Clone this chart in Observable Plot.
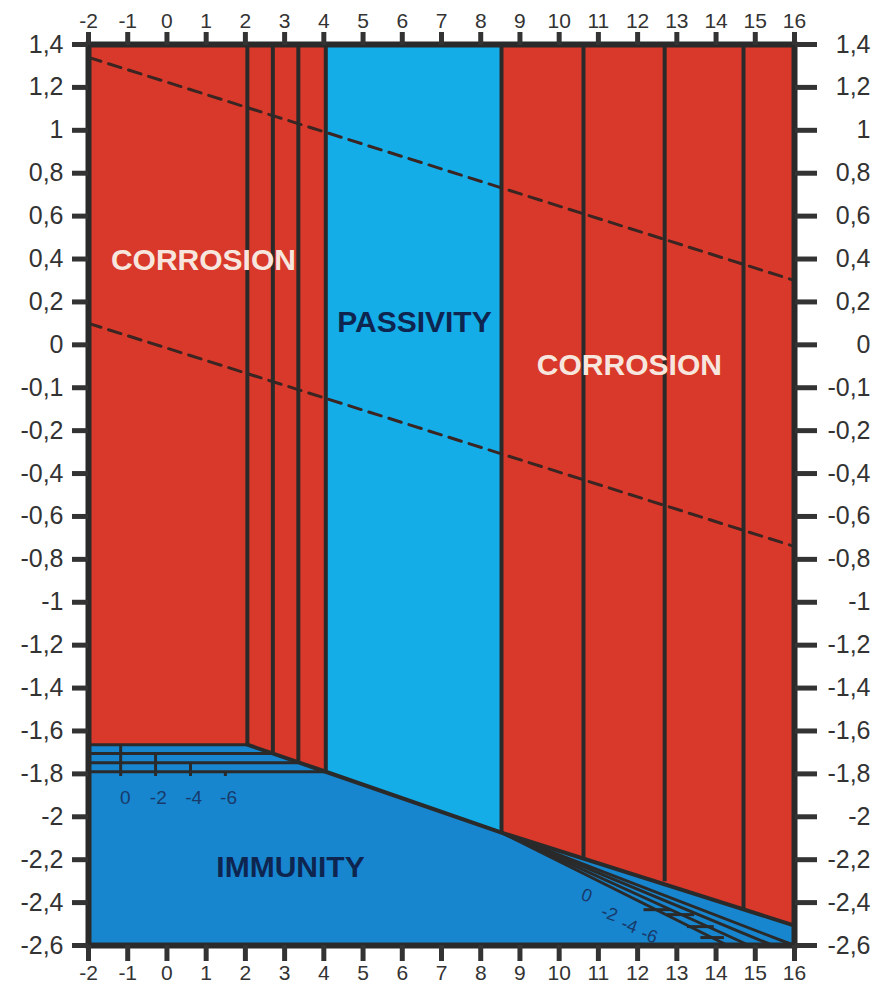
<!DOCTYPE html>
<html><head><meta charset="utf-8">
<script src="https://cdn.jsdelivr.net/npm/d3@7"></script>
<script src="https://cdn.jsdelivr.net/npm/@observablehq/plot@0.6"></script>
<style>body{margin:0;background:#fff} #chart svg{display:block}</style>
</head><body><div id="chart"></div>
<script>
// ---- axis ticks ----
const xTicks = [-2,-1,0,1,2,3,4,5,6,7,8,9,10,11,12,13,14,15,16];
// y positions (equally spaced) and the labels printed at them
const yTickPos = [1.4,1.2,1.0,0.8,0.6,0.4,0.2,0.0,-0.2,-0.4,-0.6,-0.8,-1.0,-1.2,-1.4,-1.6,-1.8,-2.0,-2.2,-2.4,-2.6,-2.8];
const yTickLabels = ["1,4","1,2","1","0,8","0,6","0,4","0,2","0","-0,1","-0,2","-0,4","-0,6","-0,8","-1","-1,2","-1,4","-1,6","-1,8","-2","-2,2","-2,4","-2,6"];
const topE = 1.4;
const bottomE = -2.8;

// ---- regions ----
const corrosionLeftPH = [-2, 2.05, 4.05];
const corrosionLeftBottom = [-1.864, -1.864, -1.99];
const passivityPH = [4.05, 8.53];
const passivityBottom = [-1.99, -2.274];
const corrosionRightPH = [8.53, 16];
const corrosionRightBottom = [-2.274, -2.707];

// main lower boundary (Al2O3 / Al)
const boundaryPH = [2.05, 4.05, 8.53, 16];
const boundaryE = [-1.864, -1.99, -2.274, -2.707];

// vertical boundary lines
const vLinePH = [2.05, 2.7, 3.35, 4.05, 8.53, 10.62, 12.69, 14.70];
const vLineBottom = [-1.864, -1.905, -1.948, -1.99, -2.274, -2.39, -2.50, -2.63];

// horizontal concentration lines (left)
const hLineE = [-1.864, -1.905, -1.948, -1.99];
const hLineEndPH = [2.05, 2.7, 3.35, 4.05];
const concTickPH = [-1.18, -0.29, 0.6, 1.49];
const concTickBottom = -2.01;
const concLabels = ["0", "-2", "-4", "-6"];
const concLabelPH = [-1.06, -0.22, 0.68, 1.57];
const concLabelE = -2.11;

// fan of concentration lines (right)
const fanStartPH = 8.53;
const fanStartE = -2.274;
const fanEndPH = [16.0, 15.45, 14.85, 14.3];
const fanDashFromPH = [12.15, 12.75, 13.26, 13.6];
const fanDashToPH = [12.84, 13.44, 13.94, 14.2];
const fanDashE = [-2.633, -2.656, -2.712, -2.763];
const fanLabelPH = [10.70, 11.28, 11.79, 12.30];
const fanLabelE = [-2.567, -2.651, -2.707, -2.753];

// water stability lines (dashed)
const waterPH = [-2, 16];
const upperWaterE = [1.34, 0.30];
const lowerWaterE = [0.10, -0.94];

// region names
const regionNames = ["CORROSION", "PASSIVITY", "CORROSION", "IMMUNITY"];
const regionPH = [0.93, 6.31, 11.79, 3.15];
const regionE = [0.393, 0.104, -0.096, -2.437];
const regionColor = ["#f7e6de", "#0e2550", "#f7e6de", "#0e2550"];

// ---- colours ----
const RED = "#d9392a";
const PASS = "#14ade8";
const IMM = "#1886cf";
const INK = "#2a2a2a";

const area = (xs, bottoms) => xs.map((x, i) => ({x, y1: bottoms[i], y2: topE}));
const pts = (xs, ys) => xs.map((x, i) => ({x, y: ys[i]}));

const vLines = vLinePH.map((x, i) => ({x, y1: topE, y2: vLineBottom[i]}));
const hLines = hLineE.map((y, i) => ({x1: -2, x2: hLineEndPH[i], y}));
const concTicks = concTickPH.map((x, i) => ({x, y1: hLineE[i], y2: concTickBottom}));
const concText = concLabels.map((t, i) => ({x: concLabelPH[i], y: concLabelE, t}));
const fanLines = fanEndPH.map((x2, i) => ({x1: fanStartPH, y1: fanStartE, x2, y2: bottomE}));
const fanDashes = fanDashE.map((y, i) => ({x1: fanDashFromPH[i], x2: fanDashToPH[i], y}));
const fanText = concLabels.map((t, i) => ({x: fanLabelPH[i], y: fanLabelE[i], t}));
const regions = regionNames.map((t, i) => ({x: regionPH[i], y: regionE[i], t, c: regionColor[i]}));

const yFmt = d => {
  const i = yTickPos.findIndex(v => Math.abs(v - d) < 1e-9);
  return i >= 0 ? yTickLabels[i] : "";
};

const chart = Plot.plot({
  width: 876,
  height: 987,
  marginLeft: 88,
  marginRight: 82,
  marginTop: 44,
  marginBottom: 42,
  style: {fontFamily: "Liberation Sans, Arial, sans-serif", color: "#333", background: "#fff"},
  x: {domain: [-2, 16]},
  y: {domain: [bottomE, topE]},
  marks: [
    Plot.frame({fill: IMM, stroke: null}),
    Plot.areaY(area(corrosionLeftPH, corrosionLeftBottom), {x: "x", y1: "y1", y2: "y2", fill: RED}),
    Plot.areaY(area(passivityPH, passivityBottom), {x: "x", y1: "y1", y2: "y2", fill: PASS}),
    Plot.areaY(area(corrosionRightPH, corrosionRightBottom), {x: "x", y1: "y1", y2: "y2", fill: RED}),
    // dashed water lines
    Plot.line(pts(waterPH, upperWaterE), {x: "x", y: "y", stroke: "#3a2522", strokeWidth: 3, strokeDasharray: "13,8"}),
    Plot.line(pts(waterPH, lowerWaterE), {x: "x", y: "y", stroke: "#3a2522", strokeWidth: 3, strokeDasharray: "13,8"}),
    // concentration lines
    Plot.link(hLines, {x1: "x1", x2: "x2", y1: "y", y2: "y", stroke: INK, strokeWidth: 3}),
    Plot.link(concTicks, {x1: "x", x2: "x", y1: "y1", y2: "y2", stroke: INK, strokeWidth: 3}),
    Plot.link(fanLines, {x1: "x1", y1: "y1", x2: "x2", y2: "y2", stroke: INK, strokeWidth: 3}),
    Plot.link(fanDashes, {x1: "x1", x2: "x2", y1: "y", y2: "y", stroke: INK, strokeWidth: 3}),
    // boundaries
    Plot.line(pts(boundaryPH, boundaryE), {x: "x", y: "y", stroke: INK, strokeWidth: 4}),
    Plot.link(vLines, {x1: "x", x2: "x", y1: "y1", y2: "y2", stroke: INK, strokeWidth: 4}),
    // small labels
    Plot.text(concText, {x: "x", y: "y", text: "t", fill: "#173a6a", fontSize: 19}),
    Plot.text(fanText, {x: "x", y: "y", text: "t", fill: "#173a6a", fontSize: 18, rotate: 20}),
    // region names
    Plot.text(regions, {x: "x", y: "y", text: "t", fill: "c", fontSize: 30, fontWeight: "bold"}),
    Plot.frame({stroke: INK, strokeWidth: 6}),
    // axes
    Plot.axisX({anchor: "top", ticks: xTicks, tickFormat: d => String(d), tickSize: 13, tickPadding: 4, strokeWidth: 5, fontSize: 21, color: "#333"}),
    Plot.axisX({anchor: "bottom", ticks: xTicks, tickFormat: d => String(d), tickSize: 16, tickPadding: 4, strokeWidth: 5, fontSize: 21, color: "#333"}),
    Plot.axisY({anchor: "left", ticks: yTickPos, tickFormat: yFmt, tickSize: 16, tickPadding: 9, strokeWidth: 5, fontSize: 25, color: "#333"}),
    Plot.axisY({anchor: "right", ticks: yTickPos, tickFormat: yFmt, tickSize: 22, tickPadding: 54, textAnchor: "end", strokeWidth: 5, fontSize: 25, color: "#333"})
  ]
});
document.getElementById("chart").appendChild(chart);
</script>
</body></html>
